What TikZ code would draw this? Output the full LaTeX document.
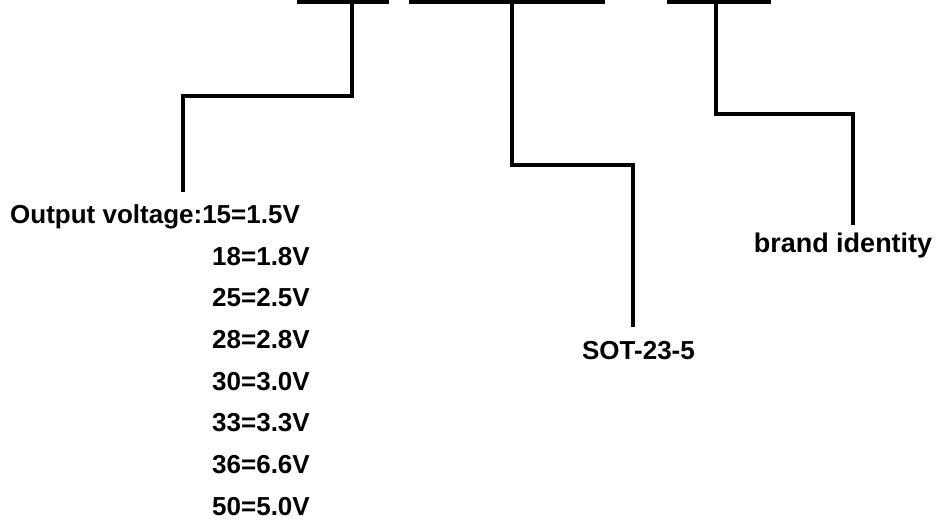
\documentclass[tikz,border=0pt]{standalone}
\usepackage{fontspec}
\setmainfont{Liberation Sans}
\begin{document}
\begin{tikzpicture}[x=1pt,y=-1pt,
  lbl/.style={inner sep=0pt,font=\fontsize{26}{30}\selectfont\bfseries},
  wire/.style={line width=4pt,line join=miter,line cap=butt},
  barfill/.style={fill=black,draw=none}]
\useasboundingbox (0,0) rectangle (938,525);
% top bars
\fill[barfill] (297,0) rectangle (389,3.5);
\fill[barfill] (409,0) rectangle (605,3.5);
\fill[barfill] (667,0) rectangle (771,3.5);
% start coordinates
\coordinate (s1) at (352,0);
\coordinate (s2) at (512,0);
\coordinate (s3) at (716,0);
% end coordinates
\coordinate (e1) at (183,192);
\coordinate (e2) at (633,327);
\coordinate (e3) at (853,225);
% connectors
\draw[wire] (s1) -- (352,96) -| (e1);
\draw[wire] (s2) -- (512,165) -| (e2);
\draw[wire] (s3) -- (716,114) -| (e3);
% labels
\node[lbl,anchor=base west] (v1) at (10,223) {Output voltage:15=1.5V};
\node[lbl,anchor=base west] (v2) at (212,265) {18=1.8V};
\node[lbl,anchor=base west] (v3) at (212,306) {25=2.5V};
\node[lbl,anchor=base west] (v4) at (212,348) {28=2.8V};
\node[lbl,anchor=base west] (v5) at (212,390) {30=3.0V};
\node[lbl,anchor=base west] (v6) at (212,431) {33=3.3V};
\node[lbl,anchor=base west] (v7) at (212,473) {36=6.6V};
\node[lbl,anchor=base west] (v8) at (212,515) {50=5.0V};
\node[lbl,anchor=base] (sot) at (638.5,359) {SOT-23-5};
\node[lbl,anchor=base,font=\fontsize{27}{31}\selectfont\bfseries] (brand) at (843,252) {brand identity};
\end{tikzpicture}
\end{document}
